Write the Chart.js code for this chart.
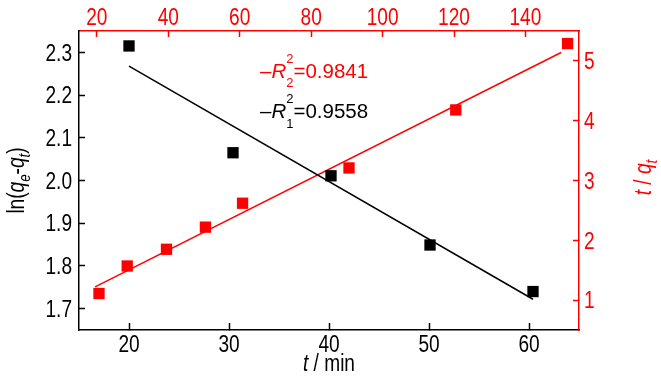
<!DOCTYPE html>
<html>
<head>
<meta charset="utf-8">
<script src="https://cdn.jsdelivr.net/npm/chart.js@4.4.0/dist/chart.umd.min.js"></script>
<style>
  body { margin: 0; background: #fff; }
  canvas { display: block; }
</style>
</head>
<body>
<canvas id="myChart" width="661" height="382"></canvas>
<script>
// ln(qe-qt) vs t  (bottom / left axes)
const timeMin = [20, 30.4, 40.2, 50.1, 60.4];
const lnQ = [2.315, 2.065, 2.011, 1.849, 1.740];
const lnFitX = [20, 60.4];
const lnFitY = [2.268, 1.722];

// t/qt vs t  (top / right axes)
const timeTop = [20.6, 28.5, 39.5, 50.4, 60.8, 90.6, 120.5, 151.8];
const tOverQ = [1.11, 1.57, 1.85, 2.22, 2.62, 3.21, 4.18, 5.29];
const tqFitX = [19.5, 150];
const tqFitY = [1.22, 5.14];

const bottomTicks = [20, 30, 40, 50, 60];
const topTicks = [20, 40, 60, 80, 100, 120, 140];
const leftTicks = [1.7, 1.8, 1.9, 2.0, 2.1, 2.2, 2.3];
const rightTicks = [1, 2, 3, 4, 5];

const RED = '#ff0000';
const SANS = '"Liberation Sans", Arial, sans-serif';
const TXT = 23;      // tick + title size
const SQUEEZE = 0.83; // the original text is condensed

function axis(pos, min, max, ticks, color, size) {
  return {
    type: 'linear',
    position: pos,
    min: min,
    max: max,
    afterBuildTicks: s => { s.ticks = ticks.map(v => ({ value: v })); },
    afterFit: s => {
      if (pos === 'left' || pos === 'right') s.width = size;
      else s.height = size;
    },
    border: { color: color, width: 1.5 },
    grid: { drawOnChartArea: false, drawTicks: true, tickLength: pos === 'bottom' ? -7 : -6, color: color, tickWidth: 1.5 },
    ticks: { display: false }
  };
}

// rich text: runs of {t, i} or {sub, sup, i}
function drawRich(ctx, runs, x, y, rot, align, o) {
  ctx.save();
  ctx.translate(x, y);
  ctx.rotate(rot);
  ctx.scale(o.sx || 1, 1);
  ctx.textBaseline = 'alphabetic';
  ctx.textAlign = 'left';
  ctx.fillStyle = o.color;
  const fontOf = (r, s) => (r.i ? 'italic ' : '') + s + 'px ' + SANS;
  const widths = runs.map(r => {
    if (r.sub !== undefined || r.sup !== undefined) {
      ctx.font = fontOf(r, o.small);
      return Math.max(ctx.measureText(r.sub || '').width, ctx.measureText(r.sup || '').width);
    }
    ctx.font = fontOf(r, o.size);
    return ctx.measureText(r.t).width;
  });
  const total = widths.reduce((a, b) => a + b, 0);
  let cx = align === 'center' ? -total / 2 : align === 'right' ? -total : 0;
  runs.forEach((r, k) => {
    if (r.sub !== undefined || r.sup !== undefined) {
      ctx.font = fontOf(r, o.small);
      if (r.sub) ctx.fillText(r.sub, cx, o.subOff);
      if (r.sup) ctx.fillText(r.sup, cx, o.supOff);
    } else {
      ctx.font = fontOf(r, o.size);
      ctx.fillText(r.t, cx, 0);
    }
    cx += widths[k];
  });
  ctx.restore();
}

function tickLabels(ctx, scale, ticks, fmt, pos, color) {
  const o = { size: TXT, sx: SQUEEZE, color: color };
  const a = scale.chart.chartArea;
  ticks.forEach(v => {
    const p = scale.getPixelForValue(v);
    const run = [{ t: fmt(v) }];
    if (pos === 'bottom') drawRich(ctx, run, p, a.bottom + 21.5, 0, 'center', o);
    if (pos === 'top') drawRich(ctx, run, p, a.top - 6, 0, 'center', o);
    if (pos === 'left') drawRich(ctx, run, a.left - 7, p + 8.2, 0, 'right', o);
    if (pos === 'right') drawRich(ctx, run, a.right + 5, p + 8.2, 0, 'left', o);
  });
}

const labelsPlugin = {
  id: 'labels',
  afterDraw(chart) {
    const ctx = chart.ctx;
    const a = chart.chartArea;
    const s = chart.scales;
    tickLabels(ctx, s.x, bottomTicks, v => String(v), 'bottom', '#000');
    tickLabels(ctx, s.x2, topTicks, v => String(v), 'top', RED);
    tickLabels(ctx, s.y, leftTicks, v => v.toFixed(1), 'left', '#000');
    tickLabels(ctx, s.y2, rightTicks, v => String(v), 'right', RED);

    const title = { size: TXT, sx: SQUEEZE, small: 16, subOff: 6, supOff: -9 };
    drawRich(ctx, [{ t: 't', i: true }, { t: ' / min' }],
      (a.left + a.right) / 2, a.bottom + 41, 0, 'center', Object.assign({ color: '#000' }, title));
    drawRich(ctx, [{ t: 'ln(' }, { t: 'q', i: true }, { sub: 'e', i: true }, { t: '-' },
                   { t: 'q', i: true }, { sub: 't', i: true }, { t: ')' }],
      24, (a.top + a.bottom) / 2, -Math.PI / 2, 'center', Object.assign({ color: '#000' }, title));
    drawRich(ctx, [{ t: 't', i: true }, { t: ' / ' }, { t: 'q', i: true }, { sub: 't', i: true }],
      651, (a.top + a.bottom) / 2 - 3, -Math.PI / 2, 'center', Object.assign({ color: RED }, title));

    // R^2 notes, anchored on the bottom/left scales
    const note = { size: 20.5, sx: 1, small: 13, subOff: 9.5, supOff: -15 };
    drawRich(ctx, [{ t: '\u2013' }, { t: 'R', i: true }, { sub: '2', sup: '2' }, { t: '=0.9841' }],
      s.x.getPixelForValue(33.1), s.y.getPixelForValue(2.241), 0, 'left', Object.assign({ color: RED }, note));
    drawRich(ctx, [{ t: '\u2013' }, { t: 'R', i: true }, { sub: '1', sup: '2' }, { t: '=0.9558' }],
      s.x.getPixelForValue(33.1), s.y.getPixelForValue(2.146), 0, 'left', Object.assign({ color: '#000' }, note));
  }
};

const ctx = document.getElementById('myChart');

new Chart(ctx, {
  type: 'scatter',
  data: {
    datasets: [
      {
        data: timeMin.map((x, i) => ({ x: x, y: lnQ[i] })),
        xAxisID: 'x', yAxisID: 'y',
        pointStyle: 'rect', pointRadius: 8, pointBorderWidth: 0,
        backgroundColor: '#000', order: 0
      },
      {
        data: timeTop.map((x, i) => ({ x: x, y: tOverQ[i] })),
        xAxisID: 'x2', yAxisID: 'y2',
        pointStyle: 'rect', pointRadius: 8, pointBorderWidth: 0,
        backgroundColor: RED, order: 0
      },
      {
        data: lnFitX.map((x, i) => ({ x: x, y: lnFitY[i] })),
        xAxisID: 'x', yAxisID: 'y',
        showLine: true, borderColor: '#000', borderWidth: 1.5, pointRadius: 0, order: 1
      },
      {
        data: tqFitX.map((x, i) => ({ x: x, y: tqFitY[i] })),
        xAxisID: 'x2', yAxisID: 'y2',
        showLine: true, borderColor: RED, borderWidth: 1.5, pointRadius: 0, order: 1
      }
    ]
  },
  options: {
    responsive: false,
    animation: false,
    devicePixelRatio: 1,
    layout: { padding: 0 },
    plugins: { legend: { display: false }, tooltip: { enabled: false } },
    scales: {
      x: axis('bottom', 15, 65, bottomTicks, '#000', 52),
      x2: axis('top', 15, 155, topTicks, RED, 31),
      y: axis('left', 1.65, 2.35, leftTicks, '#000', 79),
      y2: axis('right', 0.5, 5.5, rightTicks, RED, 82)
    }
  },
  plugins: [labelsPlugin]
});
</script>
</body>
</html>
